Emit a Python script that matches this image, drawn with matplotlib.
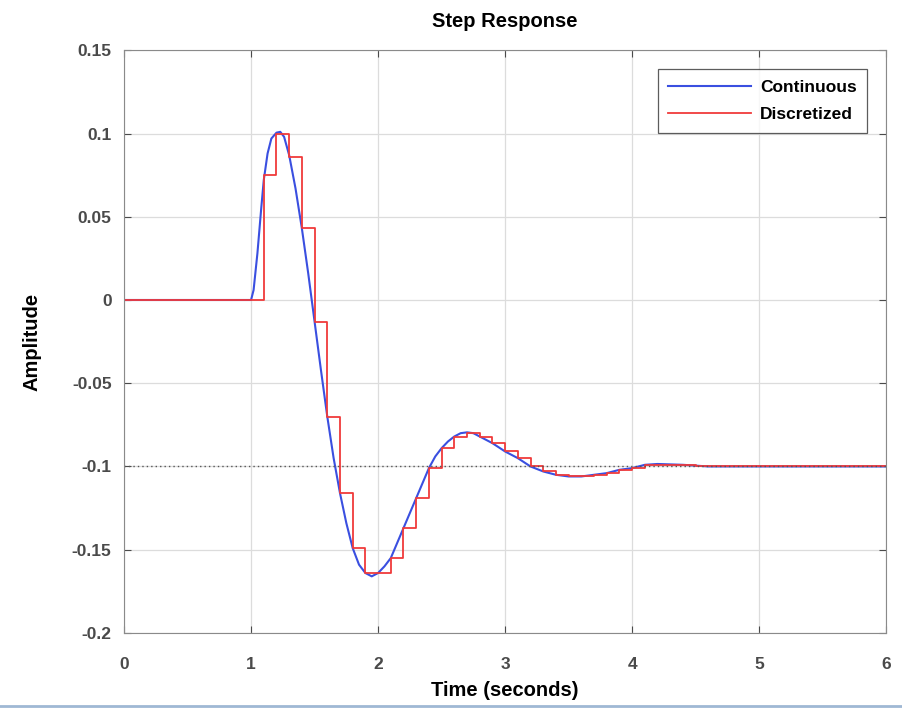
import numpy as np
import matplotlib.pyplot as plt
from matplotlib.lines import Line2D

plt.rcParams['font.family'] = ['Liberation Sans', 'DejaVu Sans']

# continuous response
t_cont = [0.0, 1.0, 1.02, 1.05, 1.08, 1.10, 1.13, 1.16, 1.20, 1.23, 1.26, 1.30, 1.35, 1.40, 1.45,
          1.50, 1.55, 1.60, 1.65, 1.70, 1.75, 1.80, 1.85, 1.90, 1.95, 2.00,
          2.05, 2.10, 2.15, 2.20, 2.25, 2.30, 2.35, 2.40, 2.45, 2.50, 2.55,
          2.60, 2.65, 2.70, 2.75, 2.80, 2.90, 3.00, 3.10, 3.20, 3.30, 3.40,
          3.50, 3.60, 3.70, 3.80, 3.90, 4.00, 4.10, 4.20, 4.40, 4.60, 5.00, 6.00]
y_cont = [0.0, 0.0, 0.006, 0.028, 0.055, 0.072, 0.088, 0.097, 0.1005, 0.101, 0.098, 0.087, 0.067, 0.043, 0.016,
          -0.013, -0.042, -0.070, -0.095, -0.116, -0.134, -0.149, -0.159, -0.164, -0.166, -0.164,
          -0.160, -0.155, -0.146, -0.137, -0.128, -0.119, -0.110, -0.101, -0.094, -0.089, -0.085,
          -0.082, -0.080, -0.0795, -0.080, -0.082, -0.086, -0.091, -0.095, -0.100, -0.103, -0.105,
          -0.106, -0.106, -0.105, -0.104, -0.102, -0.101, -0.099, -0.0985, -0.099, -0.100, -0.100, -0.100]

# zero-order-hold samples, Ts = 0.1 s
t_disc = [0.0, 1.0, 1.1, 1.2, 1.3, 1.4, 1.5, 1.6, 1.7, 1.8, 1.9, 2.0, 2.1, 2.2, 2.3,
          2.4, 2.5, 2.6, 2.7, 2.8, 2.9, 3.0, 3.1, 3.2, 3.3, 3.4, 3.5, 3.6, 3.7,
          3.8, 3.9, 4.0, 4.1, 4.2, 4.3, 4.4, 4.5, 4.6, 6.0]
y_disc = [0.0, 0.0, 0.075, 0.100, 0.086, 0.043, -0.013, -0.070, -0.116, -0.149, -0.164, -0.164,
          -0.155, -0.137, -0.119, -0.101, -0.089, -0.082, -0.080, -0.082, -0.086, -0.091,
          -0.095, -0.100, -0.103, -0.105, -0.106, -0.106, -0.105, -0.104, -0.102, -0.101,
          -0.099, -0.099, -0.099, -0.099, -0.100, -0.100, -0.100]

steady = -0.1

fig = plt.figure(figsize=(9.02, 7.08), dpi=100)
ax = fig.add_axes([0.1375, 0.106, 0.845, 0.823])

ax.plot(t_cont, y_cont, color="#3a4fe0", lw=1.5, label="Continuous")
ax.step(t_disc, y_disc, where="post", color="#f03a3a", lw=1.3, label="Discretized")
ax.plot([0, 6], [steady, steady], color="#555555", lw=1.0, ls=(0, (1, 2.2)))

ax.set_xlim(0, 6)
ax.set_ylim(-0.2, 0.15)
ax.set_xticks(range(0, 7))
ax.set_yticks([-0.2, -0.15, -0.1, -0.05, 0, 0.05, 0.1, 0.15])
ax.set_yticklabels(["-0.2", "-0.15", "-0.1", "-0.05", "0", "0.05", "0.1", "0.15"])
ax.grid(True, color="#dcdcdc", lw=0.9)
ax.set_axisbelow(True)
for s in ax.spines.values():
    s.set_color("#8a8a8a")
ax.tick_params(colors="#4a4a4a", labelsize=12.5, direction="in", length=5,
               top=True, right=True)
ax.tick_params(axis="y", pad=9)
ax.tick_params(axis="x", pad=17)
for lab in ax.get_xticklabels() + ax.get_yticklabels():
    lab.set_fontweight("bold")

ax.set_title("Step Response", fontsize=14.5, fontweight="bold", pad=17)
ax.set_xlabel("Time (seconds)", fontsize=14.5, fontweight="bold", labelpad=7)
ax.set_ylabel("Amplitude", fontsize=14.5, fontweight="bold", labelpad=22)

leg = ax.legend(loc="upper right", prop={"weight": "bold", "size": 12.5},
                frameon=True, fancybox=False, edgecolor="#333333", handlelength=4.8,
                borderaxespad=1.1, labelspacing=0.7, borderpad=0.6, handletextpad=0.5)
leg.get_frame().set_linewidth(0.9)

fig.add_artist(Line2D([0, 1], [0.003, 0.003], transform=fig.transFigure,
                      color="#9fb8d4", lw=2))

fig.savefig("out.png", dpi=100)
